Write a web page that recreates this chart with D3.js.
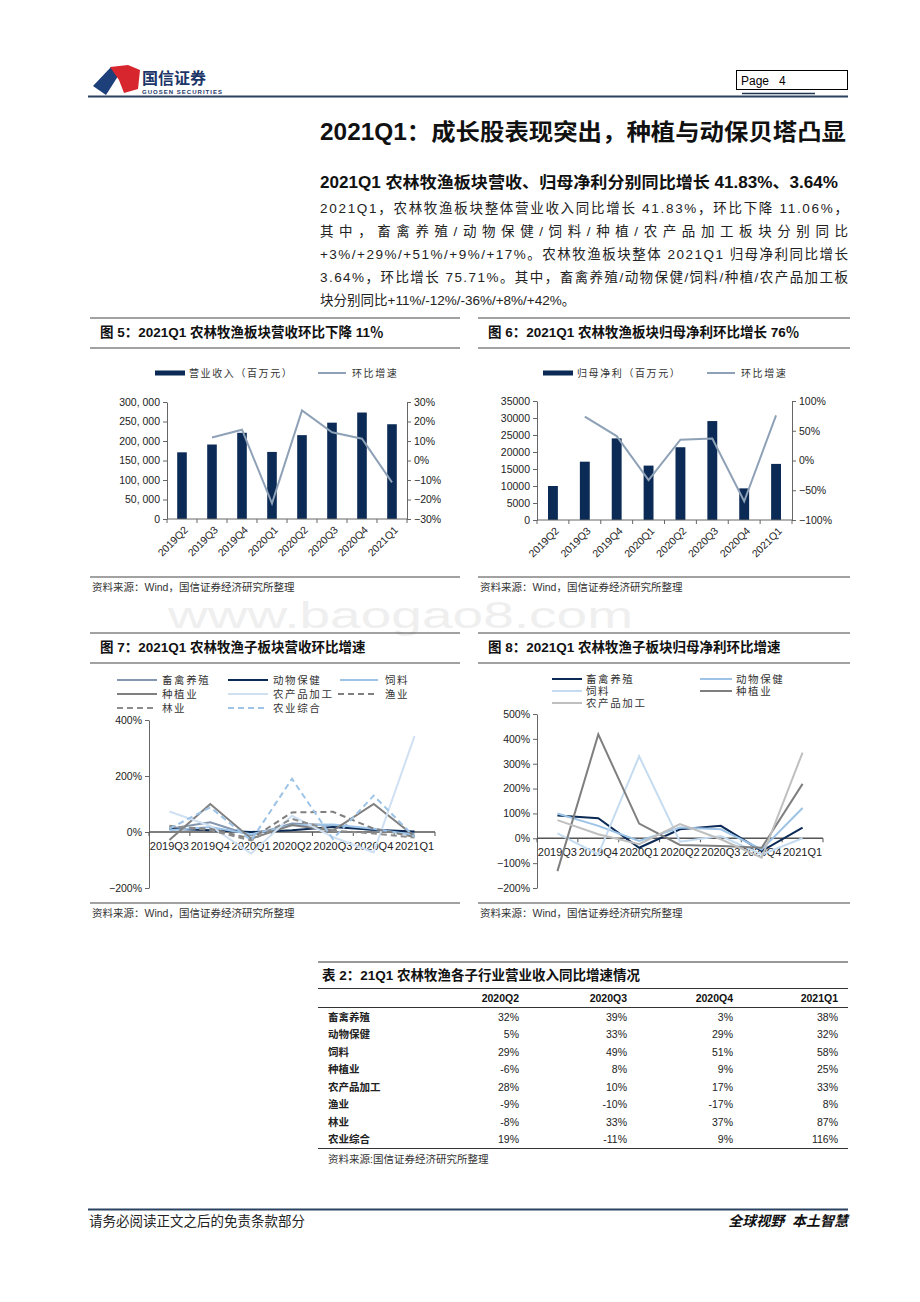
<!DOCTYPE html>
<html>
<head>
<meta charset="utf-8">
<script src="https://cdn.jsdelivr.net/npm/d3@7"></script>
<style>
  body { margin: 0; background: #fff; }
  svg { display: block; }
</style>
</head>
<body>
<script>
// ---- data ----
var quarters8 = ["2019Q2", "2019Q3", "2019Q4", "2020Q1", "2020Q2", "2020Q3", "2020Q4", "2021Q1"];
var revenue = [171000, 191000, 221000, 172000, 215000, 247000, 273000, 243000];
var revenueQoq = [null, 0.118, 0.158, -0.22, 0.257, 0.145, 0.112, -0.112];
var profit = [10000, 17150, 24000, 16000, 21400, 29100, 9300, 16500];
var profitQoq = [null, 0.736, 0.41, -0.33, 0.35, 0.37, -0.685, 0.76];

var quarters7 = ["2019Q3", "2019Q4", "2020Q1", "2020Q2", "2020Q3", "2020Q4", "2021Q1"];
var subRevNames = ["畜禽养殖", "动物保健", "饲料", "种植业", "农产品加工", "渔业", "林业", "农业综合"];
var subRev = [
  [0.12, 0.35, -0.12, 0.30, 0.24, 0.06, -0.04],
  [0.12, 0.06, 0.00, 0.06, 0.18, 0.08, 0.02],
  [0.06, 0.18, -0.08, 0.24, 0.27, 0.12, -0.12],
  [-0.29, 1.00, -0.24, 0.25, 0.05, 1.00, -0.15],
  [0.73, 0.22, -0.77, 0.58, -0.18, -0.73, 3.43],
  [0.18, 0.12, -0.24, 0.70, 0.72, 0.12, -0.18],
  [0.22, 0.06, -0.30, 0.47, 0.05, -0.05, -0.20],
  [0.12, 0.88, -0.30, 1.90, -0.25, 1.30, -0.18]
];
var subProfitNames = ["畜禽养殖", "动物保健", "饲料", "种植业", "农产品加工"];
var subProfit = [
  [0.92, 0.81, -0.38, 0.36, 0.50, -0.51, 0.43],
  [1.00, 0.50, -0.11, 0.43, 0.36, -0.45, 1.22],
  [0.20, -0.65, 3.30, -0.14, 0.09, -0.65, 0.00],
  [-1.32, 4.18, 0.59, -0.27, -0.31, -0.38, 2.19],
  [0.73, 0.16, -0.24, 0.57, -0.04, -0.78, 3.45]
];

var tableCols = ["2020Q2", "2020Q3", "2020Q4", "2021Q1"];
var tableRows = ["畜禽养殖", "动物保健", "饲料", "种植业", "农产品加工", "渔业", "林业", "农业综合"];
var tableVals = [
  ["32%", "39%", "3%", "38%"],
  ["5%", "33%", "29%", "32%"],
  ["29%", "49%", "51%", "58%"],
  ["-6%", "8%", "9%", "25%"],
  ["28%", "10%", "17%", "33%"],
  ["-9%", "-10%", "-17%", "8%"],
  ["-8%", "33%", "37%", "87%"],
  ["19%", "-11%", "9%", "116%"]
];

var paragraph = [
  "2021Q1，农林牧渔板块整体营业收入同比增长 41.83%，环比下降 11.06%，",
  "其中，畜禽养殖/动物保健/饲料/种植/农产品加工板块分别同比",
  "+3%/+29%/+51%/+9%/+17%。农林牧渔板块整体 2021Q1 归母净利同比增长",
  "3.64%，环比增长 75.71%。其中，畜禽养殖/动物保健/饲料/种植/农产品加工板",
  "块分别同比+11%/-12%/-36%/+8%/+42%。"
];

var FONT = '"Liberation Sans", Arial, "Noto Sans CJK SC", sans-serif';
var NAVY = "#0b2a55";
var source = "资料来源：Wind，国信证券经济研究所整理";

var svg = d3.select("body").append("svg").attr("width", 920).attr("height", 1302)
  .style("font-family", FONT);

// watermark
svg.append("text").attr("x", 168).attr("y", 628).attr("textLength", 465).attr("lengthAdjust", "spacingAndGlyphs")
  .style("font-size", "36px").style("fill", "#efefef").text("www.baogao8.com");

// ---- header ----
svg.append("path").attr("d", "M93,86 L111,67 L120,73 L106,95 Z").style("fill", "#1d3f7a");
svg.append("path").attr("d", "M110,67 L128,65 L140,70 L138,89 L124,93 L119,80 Z").style("fill", "#d7262d");
svg.append("text").attr("x", 142).attr("y", 84).style("font-size", "16px").style("font-weight", "bold")
  .style("fill", "#1d3668").text("国信证券");
svg.append("text").attr("x", 142).attr("y", 93.5).attr("textLength", 80).style("font-size", "6px")
  .style("font-weight", "bold").style("fill", "#1d3668").text("GUOSEN SECURITIES");
svg.append("rect").attr("x", 736.5).attr("y", 70.5).attr("width", 111).attr("height", 19)
  .style("fill", "none").style("stroke", "#000").style("stroke-width", 1);
svg.append("text").attr("x", 741).attr("y", 84.5).style("font-size", "12px").style("white-space", "pre")
  .text("Page   4");
svg.append("line").attr("x1", 742).attr("x2", 815).attr("y1", 93.5).attr("y2", 93.5)
  .style("stroke", "#1f3550").style("stroke-width", 1.5);
svg.append("line").attr("x1", 88).attr("x2", 848).attr("y1", 96.5).attr("y2", 96.5)
  .style("stroke", "#2a4360").style("stroke-width", 2);

svg.append("text").attr("x", 320).attr("y", 140).attr("textLength", 526).attr("lengthAdjust", "spacingAndGlyphs")
  .style("font-size", "23px").style("font-weight", "bold")
  .style("fill", "#111").text("2021Q1：成长股表现突出，种植与动保贝塔凸显");
svg.append("text").attr("x", 320).attr("y", 188).attr("textLength", 518).attr("lengthAdjust", "spacingAndGlyphs")
  .style("font-size", "16px").style("font-weight", "bold")
  .style("fill", "#111").text("2021Q1 农林牧渔板块营收、归母净利分别同比增长 41.83%、3.64%");

paragraph.forEach(function(s, i) {
  var t = svg.append("text").attr("x", 320).attr("y", 213 + i * 23)
    .style("font-size", "13.5px").style("fill", "#222").text(s);
  if (i < 4) t.attr("textLength", 528).attr("lengthAdjust", "spacing");
});

// ---- panel frame ----
var panel = function(x0, x1, top, bottom, title) {
  svg.append("line").attr("x1", x0).attr("x2", x1).attr("y1", top).attr("y2", top)
    .style("stroke", "#444").style("stroke-width", 1);
  svg.append("text").attr("x", x0 + 10).attr("y", top + 19).style("font-size", "13.5px")
    .style("font-weight", "bold").style("fill", "#111").text(title);
  svg.append("line").attr("x1", x0).attr("x2", x1).attr("y1", top + 30).attr("y2", top + 30)
    .style("stroke", "#444").style("stroke-width", 1);
  svg.append("line").attr("x1", x0).attr("x2", x1).attr("y1", bottom).attr("y2", bottom)
    .style("stroke", "#444").style("stroke-width", 1);
  svg.append("text").attr("x", x0 + 2).attr("y", bottom + 14).style("font-size", "10.5px")
    .style("fill", "#333").text(source);
};

var styleAxis = function(g) {
  g.selectAll("path, line").style("stroke", "#666");
  g.selectAll("text").style("font-size", "10.5px").style("fill", "#222").style("font-family", FONT);
};

// ---- combo (bars + line) ----
var combo = function(o) {
  var x = d3.scaleBand().domain(quarters8).range([o.left, o.right]).paddingInner(o.pad).paddingOuter(o.pad / 2);
  var y = d3.scaleLinear().domain(o.yDomain).range([o.bottom, o.top]);
  var y2 = d3.scaleLinear().domain(o.y2Domain).range([o.bottom, o.top]);

  svg.append("g").selectAll("rect").data(o.bars).join("rect")
    .attr("x", function(d, i) { return x(quarters8[i]); })
    .attr("width", x.bandwidth())
    .attr("y", function(d) { return y(d); })
    .attr("height", function(d) { return o.bottom - y(d); })
    .style("fill", NAVY);

  var line = d3.line().defined(function(d) { return d != null; })
    .x(function(d, i) { return x(quarters8[i]) + x.bandwidth() / 2; })
    .y(function(d) { return y2(d); });
  svg.append("path").datum(o.line).attr("d", line)
    .style("fill", "none").style("stroke", "#8ea1b6").style("stroke-width", 2);

  svg.append("g").attr("transform", "translate(" + o.left + ",0)")
    .call(d3.axisLeft(y).tickValues(o.yTicks).tickSize(4).tickSizeOuter(0).tickFormat(o.yFormat))
    .call(styleAxis);
  svg.append("g").attr("transform", "translate(" + o.right + ",0)")
    .call(d3.axisRight(y2).tickValues(o.y2Ticks).tickSize(4).tickSizeOuter(0).tickFormat(d3.format(".0%")))
    .call(styleAxis);

  // category axis with ticks between bars
  var step = x.step();
  var gx = svg.append("g");
  gx.append("line").attr("x1", o.left).attr("x2", o.right).attr("y1", o.bottom).attr("y2", o.bottom)
    .style("stroke", "#666");
  gx.selectAll("line.tk").data(d3.range(quarters8.length + 1)).join("line").attr("class", "tk")
    .attr("x1", function(i) { return o.left + i * step; }).attr("x2", function(i) { return o.left + i * step; })
    .attr("y1", o.bottom).attr("y2", o.bottom + 4).style("stroke", "#666");
  gx.selectAll("text").data(quarters8).join("text")
    .attr("transform", function(d) { return "translate(" + (x(d) + x.bandwidth() / 2 + 4) + "," + (o.bottom + 9) + ") rotate(-45)"; })
    .attr("text-anchor", "end").attr("dy", "0.35em")
    .style("font-size", "10.5px").style("fill", "#222").text(function(d) { return d; });

  // legend
  var ly = o.legendY;
  svg.append("rect").attr("x", o.legX[0]).attr("y", ly - 2.5).attr("width", 30).attr("height", 5).style("fill", NAVY);
  svg.append("text").attr("x", o.legX[0] + 34).attr("y", ly + 4).style("font-size", "10px")
    .style("letter-spacing", "1.6px").style("fill", "#333").text(o.barName);
  svg.append("line").attr("x1", o.legX[1]).attr("x2", o.legX[1] + 28).attr("y1", ly).attr("y2", ly)
    .style("stroke", "#8ea1b6").style("stroke-width", 2);
  svg.append("text").attr("x", o.legX[1] + 34).attr("y", ly + 4).style("font-size", "10px")
    .style("letter-spacing", "1.6px").style("fill", "#333").text("环比增速");
};

panel(90, 460, 318, 577, "图 5：2021Q1 农林牧渔板块营收环比下降 11％");
combo({
  left: 167, right: 407, top: 402, bottom: 519, pad: 0.68,
  bars: revenue, line: revenueQoq,
  yDomain: [0, 300000], yTicks: d3.range(0, 300001, 50000),
  yFormat: function(d) { return d3.format(",")(d).replace(/,/g, ", "); },
  y2Domain: [-0.3, 0.3], y2Ticks: d3.range(-3, 4).map(function(d) { return d / 10; }),
  legendY: 373, legX: [155, 318], barName: "营业收入（百万元）"
});

panel(478, 850, 318, 577, "图 6：2021Q1 农林牧渔板块归母净利环比增长 76％");
combo({
  left: 537, right: 792, top: 401, bottom: 520, pad: 0.69,
  bars: profit, line: profitQoq,
  yDomain: [0, 35000], yTicks: d3.range(0, 35001, 5000),
  yFormat: d3.format("d"),
  y2Domain: [-1, 1], y2Ticks: [-1, -0.5, 0, 0.5, 1],
  legendY: 373, legX: [543, 707], barName: "归母净利（百万元）"
});

// ---- multi-line charts ----
var multi = function(o) {
  var x = d3.scaleBand().domain(quarters7).range([o.left, o.right]);
  var y = d3.scaleLinear().domain(o.yDomain).range([o.bottom, o.top]);
  var zero = y(0);

  var line = d3.line()
    .x(function(d, i) { return x(quarters7[i]) + x.bandwidth() / 2; })
    .y(function(d) { return y(d); });

  svg.append("g").attr("transform", "translate(" + o.left + ",0)")
    .call(d3.axisLeft(y).tickValues(o.yTicks).tickSize(4).tickSizeOuter(0).tickFormat(d3.format(".0%")))
    .call(styleAxis);

  var gx = svg.append("g");
  gx.append("line").attr("x1", o.left).attr("x2", o.right).attr("y1", zero).attr("y2", zero)
    .style("stroke", "#555").style("stroke-width", 1.5);
  gx.selectAll("line.tk").data(d3.range(quarters7.length + 1)).join("line").attr("class", "tk")
    .attr("x1", function(i) { return o.left + i * x.step(); }).attr("x2", function(i) { return o.left + i * x.step(); })
    .attr("y1", zero).attr("y2", zero + 4).style("stroke", "#555");
  gx.selectAll("text").data(quarters7).join("text")
    .attr("x", function(d) { return x(d) + x.bandwidth() / 2; }).attr("y", zero + 18)
    .attr("text-anchor", "middle").style("font-size", "11px").style("fill", "#222")
    .text(function(d) { return d; });

  svg.append("g").selectAll("path").data(o.series).join("path")
    .attr("d", function(d) { return line(d); })
    .style("fill", "none")
    .style("stroke", function(d, i) { return o.colors[i]; })
    .style("stroke-width", 2)
    .style("stroke-dasharray", function(d, i) { return o.dashed[i] ? "6,4" : null; });

  o.names.forEach(function(n, i) {
    var p = o.legendPos[i];
    svg.append("line").attr("x1", p[0]).attr("x2", p[1]).attr("y1", p[2]).attr("y2", p[2])
      .style("stroke", o.colors[i]).style("stroke-width", 2)
      .style("stroke-dasharray", o.dashed[i] ? "6,4" : null);
    svg.append("text").attr("x", p[3]).attr("y", p[2] + 4).style("font-size", "10.5px")
      .style("letter-spacing", "1.6px").style("fill", "#333").text(n);
  });
};

panel(90, 460, 633, 903, "图 7：2021Q1 农林牧渔子板块营收环比增速");
multi({
  left: 149, right: 435, top: 720, bottom: 888,
  yDomain: [-2, 4], yTicks: [-2, 0, 2, 4],
  series: subRev, names: subRevNames,
  colors: ["#8497b0", "#0b2a55", "#9dc3e6", "#7f7f7f", "#cfe0f2", "#7f7f7f", "#8c8c8c", "#9dc3e6"],
  dashed: [false, false, false, false, false, true, true, true],
  legendPos: [
    [117, 157, 680, 162], [228, 268, 680, 273], [340, 378, 680, 385],
    [117, 157, 694, 162], [228, 268, 694, 273], [338, 376, 694, 385],
    [117, 157, 708, 162], [228, 268, 708, 273]
  ]
});

panel(478, 850, 633, 903, "图 8：2021Q1 农林牧渔子板块归母净利环比增速");
multi({
  left: 537, right: 823, top: 714, bottom: 888,
  yDomain: [-2, 5], yTicks: [-2, -1, 0, 1, 2, 3, 4, 5],
  series: subProfit, names: subProfitNames,
  colors: ["#0b2a55", "#9dc3e6", "#c5dcf0", "#7f7f7f", "#bfbfbf"],
  dashed: [false, false, false, false, false],
  legendPos: [
    [552, 582, 679, 586], [700, 732, 679, 736],
    [552, 582, 691, 586], [700, 732, 691, 736],
    [552, 582, 703, 586]
  ]
});

// ---- table ----
var colRight = d3.scaleOrdinal().domain(tableCols).range([519, 627, 733, 838]);
var rowY = d3.scaleBand().domain(tableRows).range([1008, 1148]);

svg.append("line").attr("x1", 318).attr("x2", 848).attr("y1", 962).attr("y2", 962).style("stroke", "#333");
svg.append("text").attr("x", 322).attr("y", 980).style("font-size", "13.5px").style("font-weight", "bold")
  .style("fill", "#111").text("表 2：21Q1 农林牧渔各子行业营业收入同比增速情况");
svg.append("line").attr("x1", 318).attr("x2", 848).attr("y1", 988.5).attr("y2", 988.5)
  .style("stroke", "#333").style("stroke-width", 1.2);
svg.selectAll("text.hd").data(tableCols).join("text").attr("class", "hd")
  .attr("x", function(d) { return colRight(d); }).attr("y", 1002).attr("text-anchor", "end")
  .style("font-size", "10.5px").style("font-weight", "bold").style("fill", "#111").text(function(d) { return d; });
svg.append("line").attr("x1", 318).attr("x2", 848).attr("y1", 1007.5).attr("y2", 1007.5)
  .style("stroke", "#333").style("stroke-width", 1);

tableRows.forEach(function(r, i) {
  var yy = rowY(r) + rowY.bandwidth() / 2 + 4;
  svg.append("text").attr("x", 328).attr("y", yy).style("font-size", "10.5px").style("font-weight", "bold")
    .style("fill", "#222").text(r);
  tableCols.forEach(function(c, j) {
    svg.append("text").attr("x", colRight(c)).attr("y", yy).attr("text-anchor", "end")
      .style("font-size", "10.5px").style("fill", "#222").text(tableVals[i][j]);
  });
});
svg.append("line").attr("x1", 318).attr("x2", 848).attr("y1", 1148.5).attr("y2", 1148.5)
  .style("stroke", "#333").style("stroke-width", 1);
svg.append("text").attr("x", 328).attr("y", 1163).style("font-size", "10.5px").style("fill", "#333")
  .text("资料来源:国信证券经济研究所整理");

// ---- footer ----
svg.append("line").attr("x1", 88).attr("x2", 848).attr("y1", 1209.5).attr("y2", 1209.5)
  .style("stroke", "#2a4360").style("stroke-width", 2);
svg.append("text").attr("x", 89).attr("y", 1226).style("font-size", "13.5px").style("fill", "#222")
  .text("请务必阅读正文之后的免责条款部分");
svg.append("text").attr("x", 848).attr("y", 1226).attr("text-anchor", "end").style("font-size", "14px")
  .style("font-weight", "bold").style("font-style", "italic").style("fill", "#111").style("white-space", "pre")
  .text("全球视野  本土智慧");
</script>
</body>
</html>
